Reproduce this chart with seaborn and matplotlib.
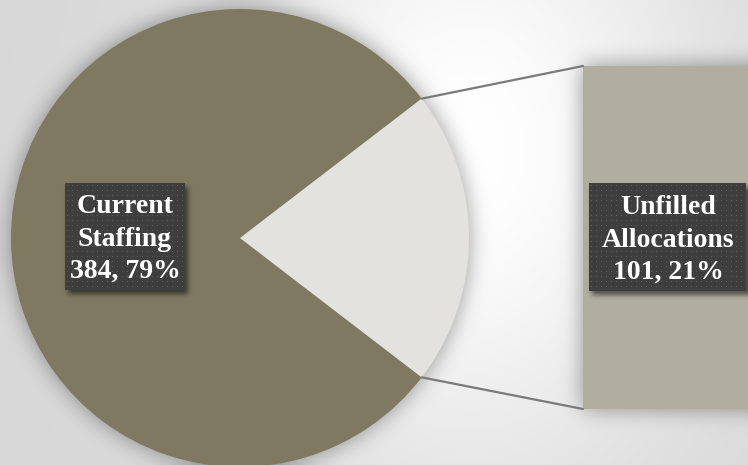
import numpy as np
import matplotlib
matplotlib.use("Agg")
import matplotlib.pyplot as plt
from matplotlib.patches import ConnectionPatch
import seaborn as sns

# ---- data -------------------------------------------------------------
categories = ["Current Staffing", "Unfilled Allocations"]
label_lines = ["Current\nStaffing", "Unfilled\nAllocations"]
counts = [384, 101]

# ---- style ------------------------------------------------------------
sns.set_theme(style="white")
plt.rcParams["font.family"] = ["Liberation Serif", "DejaVu Serif"]

W, H = 748, 465
DPI = 100
dark_col = "#7f7962"
light_col = "#e3e2de"
bar_col = "#b2ae9f"
line_col = "#7a7a7a"

# pie geometry in pixels (top-left origin)
cx, cy, R = 240, 238, 229
# bar geometry in pixels
bar_left, bar_top, bar_bottom = 583, 66, 409


def blur(a, w, n=3):
    """Repeated separable box blur with edge padding."""
    a = a.astype(float)
    pad = w // 2
    for _ in range(n):
        for axis in (0, 1):
            b = np.moveaxis(a, axis, 0)
            p = np.pad(b, [(pad, pad)] + [(0, 0)] * (b.ndim - 1), mode="edge")
            c = np.cumsum(p, axis=0)
            c = np.concatenate([np.zeros_like(c[:1]), c], axis=0)
            b = (c[w:] - c[:-w]) / w
            a = np.moveaxis(b, 0, axis)
    return a


yy, xx = np.mgrid[0:H, 0:W] + 0.5

# background: soft white glow fading to grey at the edges
r = np.sqrt(((xx - 470) / 300) ** 2 + ((yy - 150) / 420) ** 2)
bg = 255 - 40 * (1 - np.exp(-(r / 0.8) ** 2))

# soft glow-shadow around the pie and the bar
shape_mask = (((xx - cx) ** 2 + (yy - cy) ** 2) < R ** 2) | (
    (xx >= bar_left) & (yy >= bar_top) & (yy <= bar_bottom)
)
soft = blur(shape_mask, 21)
bg = bg * (1 - 0.38 * soft)
bg_rgb = np.clip(np.dstack([bg, bg, bg]) / 255.0, 0, 1)

fig = plt.figure(figsize=(W / DPI, H / DPI), dpi=DPI)

ax_bg = fig.add_axes([0, 0, 1, 1])
ax_bg.imshow(bg_rgb, extent=(0, W, H, 0), aspect="auto", interpolation="bilinear")
ax_bg.set_xlim(0, W)
ax_bg.set_ylim(H, 0)
ax_bg.axis("off")
ax_bg.set_zorder(0)

# ---- pie --------------------------------------------------------------
total = sum(counts)
half_angle = 360.0 * counts[1] / total / 2
ax_pie = fig.add_axes([(cx - R) / W, (H - cy - R) / H, 2 * R / W, 2 * R / H])
ax_pie.pie(
    counts,
    colors=[dark_col, light_col],
    startangle=half_angle,
    counterclock=True,
    radius=1,
    wedgeprops=dict(linewidth=0),
)
ax_pie.set_aspect("auto")
ax_pie.set_xlim(-1, 1)
ax_pie.set_ylim(-1, 1)
ax_pie.axis("off")
ax_pie.set_zorder(1)
for p in ax_pie.patches:
    p.set_clip_on(False)

# ---- bar for the split-out slice ----------------------------------------
ax_bar = fig.add_axes(
    [bar_left / W, (H - bar_bottom) / H, (W + 30 - bar_left) / W, (bar_bottom - bar_top) / H]
)
sns.barplot(
    x=[categories[1]], y=[counts[1]], ax=ax_bar, color=bar_col,
    saturation=1, width=1, linewidth=0,
)
ax_bar.set_xlim(-0.5, 0.5)
ax_bar.set_ylim(0, counts[1])
ax_bar.axis("off")
ax_bar.set_zorder(1)

# connector lines from the slice edges to the bar corners
th = np.deg2rad(half_angle)
for sign, yb in ((1, counts[1]), (-1, 0)):
    con = ConnectionPatch(
        xyA=(np.cos(th), sign * np.sin(th)), coordsA=ax_pie.transData,
        xyB=(-0.5, yb), coordsB=ax_bar.transData,
        color=line_col, linewidth=1.6, zorder=2,
    )
    fig.add_artist(con)

# ---- labels -------------------------------------------------------------
boxes = [(65, 184, 185, 290), (589, 184, 746, 291)]
text_pos = [(125, 239), (668, 240)]

ov = np.zeros((H, W, 4))
shadow = np.zeros((H, W))
for x0, y0, x1, y1 in boxes:
    m = (xx >= x0 + 3) & (xx < x1 + 3) & (yy >= y0 + 4) & (yy < y1 + 4)
    shadow = np.maximum(shadow, m.astype(float))
shadow = blur(shadow, 5)
ov[..., 3] = 0.55 * shadow
for x0, y0, x1, y1 in boxes:
    m = (xx >= x0) & (xx < x1) & (yy >= y0) & (yy < y1)
    dots = m & (((xx - x0).astype(int) % 5) == 2) & (((yy - y0).astype(int) % 5) == 2)
    ov[m, :3] = 62 / 255
    ov[dots, :3] = 92 / 255
    ov[m, 3] = 1.0

ax_ov = fig.add_axes([0, 0, 1, 1])
ax_ov.imshow(ov, extent=(0, W, H, 0), aspect="auto", interpolation="nearest")
ax_ov.set_xlim(0, W)
ax_ov.set_ylim(H, 0)
ax_ov.axis("off")
ax_ov.set_zorder(3)
ax_ov.patch.set_alpha(0)

for lines, v, (tx, ty) in zip(label_lines, counts, text_pos):
    pct = round(100 * v / total)
    ax_ov.text(
        tx, ty, f"{lines}\n{v}, {pct}%", ha="center", va="center",
        color="white", fontsize=20, fontweight="bold", linespacing=1.4,
    )

fig.savefig("out.png", dpi=DPI)
